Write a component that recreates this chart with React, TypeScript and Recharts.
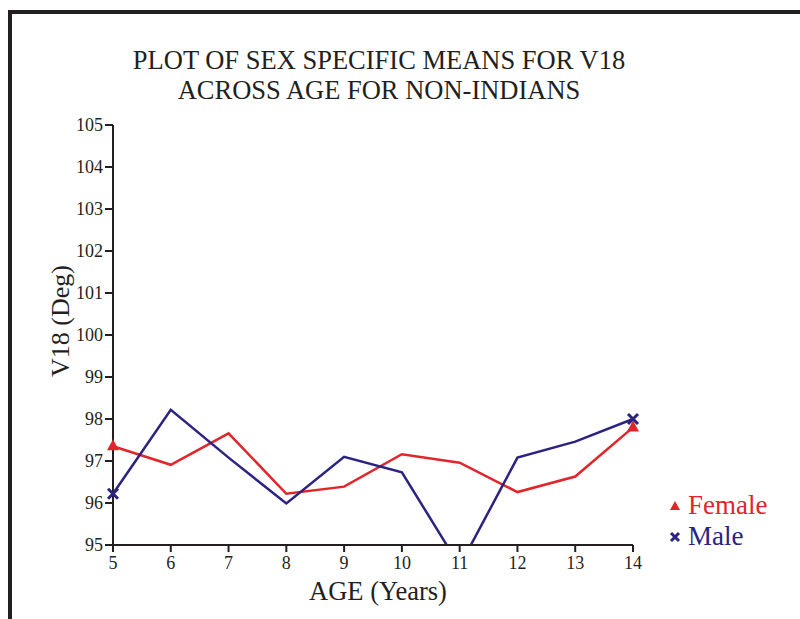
import { LineChart, Line, XAxis, YAxis } from "recharts"

const AGES = [5, 6, 7, 8, 9, 10, 11, 12, 13, 14]
const FEMALE = [97.35, 96.91, 97.66, 96.22, 96.39, 97.16, 96.96, 96.26, 96.63, 97.8]
const MALE = [96.22, 98.22, 97.08, 95.99, 97.1, 96.73, 94.5, 97.08, 97.46, 98.0]
const Y_TICKS = [95, 96, 97, 98, 99, 100, 101, 102, 103, 104, 105]

const RED = "#e0262b"
const BLUE = "#2b2381"
const INK = "#231f20"
const FONT = "'Liberation Serif', 'Times New Roman', serif"

const data = AGES.map((age, i) => ({ age, female: FEMALE[i], male: MALE[i] }))

// markers only on the first and last point of each series
function TriangleDot(props: any) {
  const { cx, cy, index } = props
  if (index !== 0 && index !== AGES.length - 1) return <g key={index} />
  return <path key={index} d={`M${cx},${cy - 7} L${cx + 6},${cy + 4} L${cx - 6},${cy + 4} Z`} fill={RED} />
}

function CrossDot(props: any) {
  const { cx, cy, index } = props
  if (index !== 0 && index !== AGES.length - 1) return <g key={index} />
  return (
    <path
      key={index}
      d={`M${cx - 5},${cy - 5} L${cx + 5},${cy + 5} M${cx + 5},${cy - 5} L${cx - 5},${cy + 5}`}
      stroke={BLUE}
      strokeWidth={3}
    />
  )
}

export default function App() {
  return (
    <div style={{ position: "relative", width: 800, height: 619, background: "#fff", fontFamily: FONT }}>
      <style>{`body{margin:0}`}</style>
      {/* frame */}
      <div style={{ position: "absolute", left: 8, top: 10, width: 792, height: 4, background: INK }} />
      <div style={{ position: "absolute", left: 8, top: 10, width: 4, height: 609, background: INK }} />

      <div
        style={{
          position: "absolute",
          left: 0,
          top: 45,
          width: 758,
          textAlign: "center",
          fontSize: 26.5,
          lineHeight: "30px",
          color: INK,
        }}
      >
        PLOT OF SEX SPECIFIC MEANS FOR V18
        <br />
        ACROSS AGE FOR NON-INDIANS
      </div>

      <div style={{ position: "absolute", left: 0, top: 0 }}>
        <LineChart width={800} height={619} data={data} margin={{ top: 125, right: 167, left: 53, bottom: 0 }}>
          <XAxis
            dataKey="age"
            type="number"
            domain={[5, 14]}
            ticks={AGES}
            tickSize={7}
            tickMargin={4}
            height={74}
            stroke={INK}
            strokeWidth={2}
            fontSize={18}
            fontFamily={FONT}
            tick={{ fontSize: 18, fill: INK, fontFamily: FONT }}
            label={{ value: "AGE (Years)", position: "insideTop", dx: 5, dy: 31, fontSize: 26.5, fill: INK, fontFamily: FONT }}
          />
          <YAxis
            type="number"
            domain={[95, 105]}
            ticks={Y_TICKS}
            allowDataOverflow
            width={60}
            tickSize={8}
            tickMargin={2}
            stroke={INK}
            strokeWidth={2}
            fontSize={18}
            fontFamily={FONT}
            tick={{ fontSize: 18, fill: INK, fontFamily: FONT }}
            label={{
              value: "V18 (Deg)",
              angle: -90,
              position: "insideLeft",
              dx: 2,
              dy: 42,
              fontSize: 26,
              fill: INK,
              fontFamily: FONT,
            }}
          />
          <Line dataKey="female" stroke={RED} strokeWidth={2.5} dot={TriangleDot} activeDot={false} isAnimationActive={false} />
          <Line dataKey="male" stroke={BLUE} strokeWidth={2.5} dot={CrossDot} activeDot={false} isAnimationActive={false} />
        </LineChart>
      </div>

      {/* legend */}
      <div style={{ position: "absolute", left: 668, top: 490, fontSize: 27, lineHeight: "31px" }}>
        <div style={{ color: RED, display: "flex", alignItems: "center" }}>
          <svg width={14} height={14} style={{ marginRight: 6 }}>
            <path d="M7,2 L12,11 L2,11 Z" fill={RED} />
          </svg>
          Female
        </div>
        <div style={{ color: BLUE, display: "flex", alignItems: "center" }}>
          <svg width={14} height={14} style={{ marginRight: 6 }}>
            <path d="M3,3 L11,11 M11,3 L3,11" stroke={BLUE} strokeWidth={3} />
          </svg>
          Male
        </div>
      </div>
    </div>
  )
}
